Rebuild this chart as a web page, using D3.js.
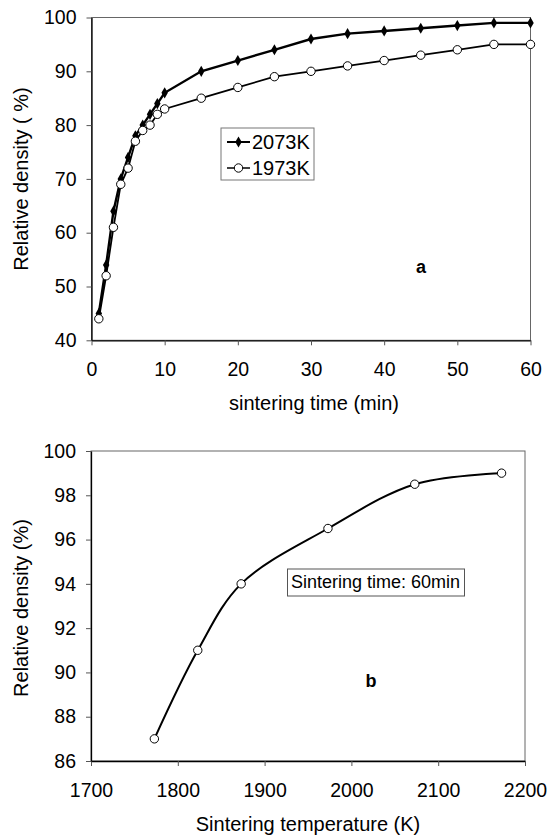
<!DOCTYPE html>
<meta charset="utf-8">
<head>
<title>Relative density</title>
<script src="https://d3js.org/d3.v7.min.js"></script>
<style>
  body { margin: 0; background: #fff; }
  svg text { font-family: "Liberation Sans", Arial, sans-serif; fill: #000; }
</style>
</head>
<body>
<div id="chart"></div>
<script>
// ---- data (a): relative density vs sintering time
var times = [1, 2, 3, 4, 5, 6, 7, 8, 9, 10, 15, 20, 25, 30, 35, 40, 45, 50, 55, 60];
var dens2073 = [45, 54, 64, 70, 74, 78, 80, 82, 84, 86, 90, 92, 94, 96, 97, 97.5, 98, 98.5, 99, 99];
var dens1973 = [44, 52, 61, 69, 72, 77, 79, 80, 82, 83, 85, 87, 89, 90, 91, 92, 93, 94, 95, 95];
var timeTicks = [0, 10, 20, 30, 40, 50, 60];
var densTicksA = [40, 50, 60, 70, 80, 90, 100];

// ---- data (b): relative density vs sintering temperature (60 min)
var temps = [1773, 1823, 1873, 1973, 2073, 2173];
var densTemp = [87, 91, 94, 96.5, 98.5, 99];
var tempTicks = [1700, 1800, 1900, 2000, 2100, 2200];
var densTicksB = [86, 88, 90, 92, 94, 96, 98, 100];

var svg = d3.select("#chart").append("svg")
  .attr("width", 549)
  .attr("height", 835);

function frame(x, y, xTicks, yTicks) {
  var g = svg.append("g");
  // plot area border
  g.append("rect")
    .attr("x", x.range()[0]).attr("y", y.range()[1])
    .attr("width", x.range()[1] - x.range()[0])
    .attr("height", y.range()[0] - y.range()[1])
    .attr("fill", "none").attr("stroke", "#666").attr("stroke-width", 1);

  var fmt = d3.format("d");
  var xa = g.append("g")
    .attr("transform", "translate(0," + y.range()[0] + ")")
    .call(d3.axisBottom(x).tickValues(xTicks).tickFormat(fmt).tickSize(5).tickPadding(17).tickSizeOuter(0));
  var ya = g.append("g")
    .attr("transform", "translate(" + x.range()[0] + ",0)")
    .call(d3.axisLeft(y).tickValues(yTicks).tickFormat(fmt).tickSize(5).tickPadding(10).tickSizeOuter(0));
  [xa, ya].forEach(function(a) {
    a.selectAll("text").style("font-size", "19.5px").attr("fill", "#000")
      .style("font-family", "'Liberation Sans', Arial, sans-serif");
    a.selectAll("line").attr("stroke", "#555");
    a.select(".domain").attr("stroke", "#000").attr("stroke-width", 1.3);
  });
  return g;
}

// ================= chart a =================
var xA = d3.scaleLinear().domain([0, 60]).range([91.5, 530.5]);
var yA = d3.scaleLinear().domain([40, 100]).range([340.3, 17.5]);
frame(xA, yA, timeTicks, densTicksA);

var lineA = d3.line().x(function(d) { return xA(d[0]); }).y(function(d) { return yA(d[1]); });
var s2073 = times.map(function(t, i) { return [t, dens2073[i]]; });
var s1973 = times.map(function(t, i) { return [t, dens1973[i]]; });

svg.append("path").datum(s1973).attr("d", lineA)
  .attr("fill", "none").attr("stroke", "#000").attr("stroke-width", 1.8);
svg.append("path").datum(s2073).attr("d", lineA)
  .attr("fill", "none").attr("stroke", "#000").attr("stroke-width", 2.4);

var diamond = d3.symbol().type(d3.symbolDiamond).size(36);
svg.append("g").selectAll("path").data(s2073).enter().append("path")
  .attr("d", diamond)
  .attr("transform", function(d) { return "translate(" + xA(d[0]) + "," + yA(d[1]) + ")"; })
  .attr("fill", "#000");
svg.append("g").selectAll("circle").data(s1973).enter().append("circle")
  .attr("cx", function(d) { return xA(d[0]); })
  .attr("cy", function(d) { return yA(d[1]); })
  .attr("r", 4.2)
  .attr("fill", "#fff").attr("stroke", "#000").attr("stroke-width", 1);

// legend
var leg = svg.append("g");
leg.append("rect").attr("x", 221).attr("y", 128).attr("width", 93).attr("height", 52)
  .attr("fill", "#fff").attr("stroke", "#777");
leg.append("line").attr("x1", 227).attr("x2", 250).attr("y1", 142).attr("y2", 142)
  .attr("stroke", "#000").attr("stroke-width", 2);
leg.append("path").attr("d", diamond).attr("transform", "translate(238.5,142)");
leg.append("text").attr("x", 252).attr("y", 149).style("font-size", "20px").text("2073K");
leg.append("line").attr("x1", 227).attr("x2", 250).attr("y1", 168).attr("y2", 168)
  .attr("stroke", "#000").attr("stroke-width", 1.5);
leg.append("circle").attr("cx", 238.5).attr("cy", 168).attr("r", 4.2)
  .attr("fill", "#fff").attr("stroke", "#000");
leg.append("text").attr("x", 252).attr("y", 175).style("font-size", "20px").text("1973K");

svg.append("text").attr("x", 421).attr("y", 273).attr("text-anchor", "middle")
  .style("font-size", "18px").style("font-weight", "bold").text("a");

svg.append("text").attr("x", 314).attr("y", 410).attr("text-anchor", "middle")
  .style("font-size", "20px").text("sintering time (min)");
svg.append("text").attr("transform", "translate(28,179) rotate(-90)")
  .attr("text-anchor", "middle").style("font-size", "20px").text("Relative density ( %)");

// ================= chart b =================
var xB = d3.scaleLinear().domain([1700, 2200]).range([91, 525]);
var yB = d3.scaleLinear().domain([86, 100]).range([761, 451]);
frame(xB, yB, tempTicks, densTicksB);

var sTemp = temps.map(function(t, i) { return [t, densTemp[i]]; });
var lineB = d3.line().curve(d3.curveCatmullRom.alpha(0.5))
  .x(function(d) { return xB(d[0]); }).y(function(d) { return yB(d[1]); });
svg.append("path").datum(sTemp).attr("d", lineB)
  .attr("fill", "none").attr("stroke", "#000").attr("stroke-width", 2);
svg.append("g").selectAll("circle").data(sTemp).enter().append("circle")
  .attr("cx", function(d) { return xB(d[0]); })
  .attr("cy", function(d) { return yB(d[1]); })
  .attr("r", 4.2)
  .attr("fill", "#fff").attr("stroke", "#000").attr("stroke-width", 1);

svg.append("rect").attr("x", 287.5).attr("y", 569).attr("width", 177).attr("height", 27)
  .attr("fill", "#fff").attr("stroke", "#555");
svg.append("text").attr("x", 291).attr("y", 588).style("font-size", "18px").text("Sintering time: 60min");

svg.append("text").attr("x", 371).attr("y", 687).attr("text-anchor", "middle")
  .style("font-size", "18px").style("font-weight", "bold").text("b");

svg.append("text").attr("x", 308).attr("y", 831).attr("text-anchor", "middle")
  .style("font-size", "20px").text("Sintering temperature (K)");
svg.append("text").attr("transform", "translate(28,608) rotate(-90)")
  .attr("text-anchor", "middle").style("font-size", "20px").text("Relative density (%)");
</script>
</body>
</html>
